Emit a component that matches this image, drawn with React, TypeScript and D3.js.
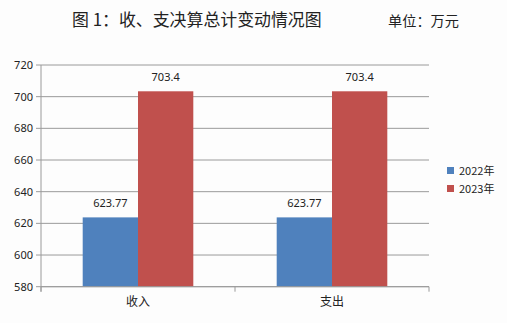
import React from "react";
import * as d3 from "d3";

const categories = ["收入", "支出"];
const seriesNames = ["2022年", "2023年"];
const values2022 = [623.77, 623.77];
const values2023 = [703.4, 703.4];
const valueLabels2022 = ["623.77", "623.77"];
const valueLabels2023 = ["703.4", "703.4"];
const yTicks = [580, 600, 620, 640, 660, 680, 700, 720];
const colors = ["#4f81bd", "#c0504d"];

const W = 507;
const H = 323;
const plot = { left: 41, right: 429, top: 65, bottom: 286.7 };

export default function App() {
  const x0 = d3.scaleBand<string>().domain(categories).range([plot.left, plot.right]).paddingInner(0).paddingOuter(0);
  const x1 = d3.scaleBand<string>().domain(seriesNames).range([0, x0.bandwidth()]).paddingInner(0).paddingOuter(0.754);
  const y = d3.scaleLinear().domain([580, 720]).range([plot.bottom, plot.top]);
  const series = [values2022, values2023];
  const labels = [valueLabels2022, valueLabels2023];
  const numFont = "'Noto Sans', 'DejaVu Sans', sans-serif";
  const cjkFont = "'Noto Sans CJK SC', sans-serif";

  return (
    <svg width={W} height={H} style={{ position: "absolute", left: 0, top: 0 }} xmlns="http://www.w3.org/2000/svg">
      <rect x={0} y={0} width={W} height={H} fill="#fdfdfd" />
      <text x={72} y={26} fontSize={16.9} fontFamily={cjkFont} fill="#222">图 1：收、支决算总计变动情况图</text>
      <text x={388} y={26} fontSize={14.2} fontFamily={cjkFont} fill="#222">单位：万元</text>

      {yTicks.map((t) => (
        <g key={t}>
          <line x1={plot.left - 5} x2={plot.right} y1={y(t)} y2={y(t)} stroke="#9a9a9a" strokeWidth={1} />
          <text x={plot.left - 8} y={y(t)} dy="0.35em" textAnchor="end" fontSize={11} fontFamily={numFont} fill="#222">{t}</text>
        </g>
      ))}
      <line x1={plot.left} x2={plot.left} y1={plot.top} y2={plot.bottom + 5} stroke="#9a9a9a" />

      {categories.map((c, ci) => (
        <g key={c} transform={`translate(${x0(c)},0)`}>
          {seriesNames.map((s, si) => (
            <g key={s}>
              <rect x={x1(s)} y={y(series[si][ci])} width={x1.bandwidth()} height={plot.bottom - y(series[si][ci])} fill={colors[si]} />
              <text x={(x1(s) as number) + x1.bandwidth() / 2} y={y(series[si][ci]) - 10} textAnchor="middle" fontSize={11} fontFamily={numFont} fill="#222">{labels[si][ci]}</text>
            </g>
          ))}
          <text x={x0.bandwidth() / 2} y={plot.bottom + 19} textAnchor="middle" fontSize={12} fontFamily={cjkFont} fill="#222">{c}</text>
        </g>
      ))}
      <line x1={plot.left} x2={plot.right} y1={plot.bottom} y2={plot.bottom} stroke="#9a9a9a" />
      {[...categories.map((c) => x0(c) as number), plot.right].map((xv, i) => (
        <line key={i} x1={xv} x2={xv} y1={plot.bottom} y2={plot.bottom + 5} stroke="#9a9a9a" />
      ))}

      {seriesNames.map((s, i) => (
        <g key={s} transform={`translate(447,${167 + i * 18})`}>
          <rect x={0} y={0} width={7} height={7} fill={colors[i]} />
          <text x={12} y={4} dy="0.35em" fontSize={11} fontFamily={cjkFont} fill="#222">{s}</text>
        </g>
      ))}
    </svg>
  );
}
